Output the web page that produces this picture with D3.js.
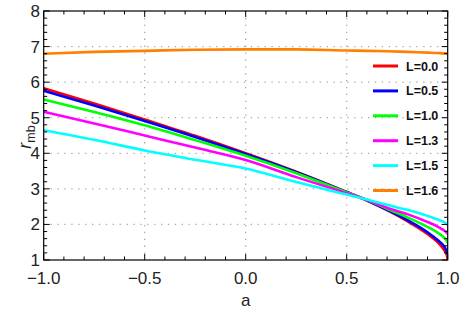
<!DOCTYPE html>
<html><head><meta charset="utf-8">
<script src="https://cdn.jsdelivr.net/npm/d3@7"></script>
<style>body{margin:0;background:#fff}svg{display:block}</style></head>
<body>
<svg id="c" width="463" height="318"></svg>
<script>
// ---- data ----
const aVals   = [-1, -0.75, -0.5, -0.25, 0, 0.25, 0.5, 0.6, 0.7, 0.8, 0.9, 0.95, 0.98, 0.99, 0.995, 1];
const rL00 = [5.83, 5.40, 4.95, 4.49, 4.00, 3.48, 2.91, 2.67, 2.40, 2.09, 1.73, 1.50, 1.30, 1.21, 1.15, 1.00];
const rL05 = [5.76, 5.34, 4.91, 4.46, 3.98, 3.47, 2.91, 2.68, 2.41, 2.12, 1.78, 1.56, 1.40, 1.31, 1.24, 1.15];
const rL10 = [5.51, 5.16, 4.79, 4.37, 3.93, 3.44, 2.90, 2.69, 2.44, 2.20, 1.93, 1.77, 1.64, 1.58, 1.54, 1.48];
const rL13 = [5.17, 4.84, 4.50, 4.16, 3.81, 3.33, 2.88, 2.69, 2.47, 2.29, 2.07, 1.94, 1.84, 1.80, 1.77, 1.73];
const rL15 = [4.65, 4.38, 4.08, 3.82, 3.57, 3.19, 2.84, 2.70, 2.55, 2.41, 2.24, 2.14, 2.07, 2.04, 2.02, 1.98];
const rL16 = [6.80, 6.85, 6.88, 6.91, 6.92, 6.92, 6.89, 6.88, 6.87, 6.85, 6.83, 6.82, 6.81, 6.81, 6.81, 6.80];
const seriesNames  = ["L=0.0", "L=0.5", "L=1.0", "L=1.3", "L=1.5", "L=1.6"];
const seriesValues = [rL00, rL05, rL10, rL13, rL15, rL16];
const seriesColors = ["#ff0000", "#0000ff", "#00ff00", "#ff00ff", "#00ffff", "#ff8000"];
const xTicks = [-1, -0.5, 0, 0.5, 1];
const yTicks = [1, 2, 3, 4, 5, 6, 7, 8];
const xGrid = [-0.5, 0, 0.5];
const yGrid = [2, 3, 4, 5, 6, 7];

// ---- layout ----
const L = 43.7, R = 447.7, T = 11, B = 260;
const svg = d3.select("#c");
const x = d3.scaleLinear().domain([-1, 1]).range([L, R]);
const y = d3.scaleLinear().domain([1, 8]).range([B, T]);
const font = "'Liberation Sans', Arial, sans-serif";

svg.append("defs").append("clipPath").attr("id", "clip")
  .append("rect").attr("x", L).attr("y", T).attr("width", R - L).attr("height", B - T);

// grid
const g = svg.append("g").attr("stroke", "#a8a8a8").attr("stroke-width", 1.3).attr("stroke-dasharray", "1.3,5.6");
g.selectAll(".gx").data(xGrid).join("line").attr("x1", d => x(d)).attr("x2", d => x(d)).attr("y1", T).attr("y2", B);
g.selectAll(".gy").data(yGrid).join("line").attr("y1", d => y(d)).attr("y2", d => y(d)).attr("x1", L).attr("x2", R);

// curves
const line = d3.line().x((d, i) => x(aVals[i])).y(d => y(d)).curve(d3.curveMonotoneX);
const cg = svg.append("g").attr("clip-path", "url(#clip)");
seriesValues.forEach((vals, k) => {
  cg.append("path").attr("d", line(vals)).attr("fill", "none")
    .attr("stroke", seriesColors[k]).attr("stroke-width", 2.6).attr("stroke-linejoin", "round");
});

// axes (ticks inward, mirrored)
const xMinor = d3.range(-10, 11).map(i => i / 10);
const yMinor = d3.range(5, 41).map(i => i / 5);
function isMajor(v, list) { return list.some(t => Math.abs(t - v) < 1e-9); }
const ax = svg.append("g").attr("stroke", "#000").attr("stroke-width", 1);
xMinor.forEach(v => {
  const len = isMajor(v, xTicks) ? 6 : 3.5;
  ax.append("line").attr("x1", x(v)).attr("x2", x(v)).attr("y1", B).attr("y2", B - len);
  ax.append("line").attr("x1", x(v)).attr("x2", x(v)).attr("y1", T).attr("y2", T + len);
});
yMinor.forEach(v => {
  const len = isMajor(v, yTicks) ? 6 : 3.5;
  ax.append("line").attr("y1", y(v)).attr("y2", y(v)).attr("x1", L).attr("x2", L + len);
  ax.append("line").attr("y1", y(v)).attr("y2", y(v)).attr("x1", R).attr("x2", R - len);
});
ax.append("rect").attr("x", L).attr("y", T).attr("width", R - L).attr("height", B - T)
  .attr("fill", "none").attr("stroke-width", 1.2);

// tick labels
const fmtX = d3.format(".1f");
svg.append("g").selectAll("text").data(xTicks).join("text")
  .attr("x", d => x(d)).attr("y", 283.5).attr("text-anchor", "middle")
  .attr("font-family", font).attr("font-size", 17).attr("fill", "#222").text(d => fmtX(d));
svg.append("g").selectAll("text").data(yTicks).join("text")
  .attr("x", 40).attr("y", d => y(d) + 6).attr("text-anchor", "end")
  .attr("font-family", font).attr("font-size", 17).attr("fill", "#222").text(d => d);

// axis titles
svg.append("text").attr("x", x(0)).attr("y", 306).attr("text-anchor", "middle")
  .attr("font-family", font).attr("font-size", 17).attr("fill", "#222").text("a");
const yt = svg.append("text").attr("transform", "translate(31,137) rotate(-90)")
  .attr("text-anchor", "middle").attr("font-family", font).attr("fill", "#222");
yt.append("tspan").attr("font-size", 18).attr("font-style", "italic").text("r");
yt.append("tspan").attr("font-size", 12.5).attr("dy", 4).text("mb");

// legend
const lg = svg.append("g");
seriesNames.forEach((name, k) => {
  const ly = 66 + k * 24.9;
  lg.append("line").attr("x1", 373).attr("x2", 398).attr("y1", ly).attr("y2", ly)
    .attr("stroke", seriesColors[k]).attr("stroke-width", 3);
  lg.append("text").attr("x", 406).attr("y", ly + 4.5).attr("font-family", font)
    .attr("font-weight", "bold").attr("font-size", 12.5).attr("fill", "#111").text(name);
});
</script>
</body></html>
